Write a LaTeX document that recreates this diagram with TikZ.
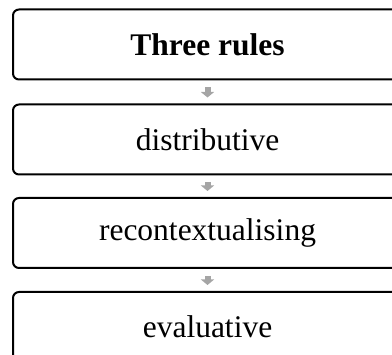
\documentclass[tikz,border=0pt]{standalone}
\usepackage{fontspec}
\setmainfont{Liberation Serif}
\usetikzlibrary{arrows.meta}
\definecolor{arrowgrey}{HTML}{A5A5A5}
\begin{document}
\begin{tikzpicture}[x=1pt,y=1pt,
  rulebox/.style={draw=black, line width=2pt, rounded corners=6pt,
    minimum width=389pt, minimum height=70pt, inner sep=0pt,
    font=\fontsize{31.5}{36}\selectfont},
  flow/.style={draw=arrowgrey, line width=6pt,
    -{Triangle[width=13pt,length=5.5pt]},
    shorten <=7pt, shorten >=6pt}]
\useasboundingbox (0,0) rectangle (392,-355);
\clip (0,0) rectangle (392,-355);
% stacked boxes, running past the right and bottom edges
\node[rulebox] (head) at (207.5,-44.5) {\textbf{Three rules}};
\node[rulebox] (dist) at (207.5,-139.5) {distributive};
\node[rulebox] (reco) at (207.5,-233) {recontextualising};
\node[rulebox] (eval) at (207.5,-327) {evaluative};
% grey block arrows between the boxes
\draw[flow] (head.south) -- (dist.north);
\draw[flow] (dist.south) -- (reco.north);
\draw[flow] (reco.south) -- (eval.north);
\end{tikzpicture}
\end{document}
